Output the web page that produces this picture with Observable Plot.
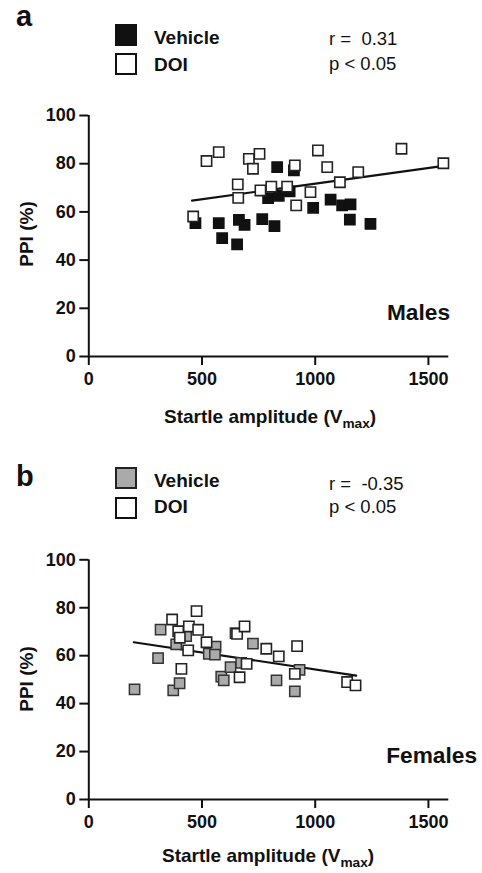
<!DOCTYPE html>
<html>
<head>
<meta charset="utf-8">
<script src="https://cdn.jsdelivr.net/npm/d3@7"></script>
<script src="https://cdn.jsdelivr.net/npm/@observablehq/plot@0.6"></script>
<style>
  html, body { margin: 0; padding: 0; background: #fff; }
  #page { position: relative; width: 482px; height: 873px; overflow: hidden;
          font-family: "Liberation Sans", Arial, Helvetica, sans-serif; color: #111; }
  .t { position: absolute; line-height: 1; white-space: pre; }
  .b { font-weight: bold; }
  .sq { position: absolute; box-sizing: border-box; width: 22px; height: 22px; border: 2px solid #111; }
  .panel { position: absolute; left: 0; }
  .rot { position: absolute; transform: translate(-50%, -50%) rotate(-90deg); font-weight: bold; font-size: 19px; line-height: 1; white-space: pre; }
  sub { font-size: 0.72em; vertical-align: -0.35em; line-height: 0; }
</style>
</head>
<body>
<div id="page">
  <!-- panel a -->
  <div class="t b" style="left:16px; top:2px; font-size:29px;">a</div>
  <div class="sq" style="left:115px; top:24px; background:#111;"></div>
  <div class="sq" style="left:115px; top:53px; background:#fff;"></div>
  <div class="t b" style="left:154px; top:28px; font-size:19px;">Vehicle</div>
  <div class="t b" style="left:154px; top:54.6px; font-size:19px;">DOI</div>
  <div class="t" style="left:329px; top:30px; font-size:18.5px;">r =  0.31</div>
  <div class="t" style="left:329px; top:55px; font-size:18.5px;">p &lt; 0.05</div>
  <div id="plotA" class="panel" style="top:90px;"></div>
  <div class="t b" style="right:32px; top:300.8px; font-size:22.7px;">Males</div>
  <div class="rot" style="left:26px; top:234px;">PPI (%)</div>
  <div class="t b" style="left:164px; top:407px; font-size:19px;">Startle amplitude (V<sub>max</sub>)</div>

  <!-- panel b -->
  <div class="t b" style="left:16px; top:462px; font-size:29px;">b</div>
  <div class="sq" style="left:115px; top:467px; background:#aaaaaa; border-color:#222;"></div>
  <div class="sq" style="left:115px; top:497px; background:#fff;"></div>
  <div class="t b" style="left:154px; top:470.6px; font-size:19px;">Vehicle</div>
  <div class="t b" style="left:154px; top:497.2px; font-size:19px;">DOI</div>
  <div class="t" style="left:329px; top:475px; font-size:18.5px;">r =  -0.35</div>
  <div class="t" style="left:329px; top:498.3px; font-size:18.5px;">p &lt; 0.05</div>
  <div id="plotB" class="panel" style="top:535px;"></div>
  <div class="t b" style="right:5px; top:743.5px; font-size:22.7px;">Females</div>
  <div class="rot" style="left:26px; top:679px;">PPI (%)</div>
  <div class="t b" style="left:162px; top:846px; font-size:19px;">Startle amplitude (V<sub>max</sub>)</div>
</div>
<script>
// ---- data ----
const xTicks = [0, 500, 1000, 1500];
const yTicks = [0, 20, 40, 60, 80, 100];

// Males
const maleVehicleX = [471, 574, 589, 655, 663, 688, 766, 820, 792, 839, 832, 887, 906, 991, 1068, 1119, 1156, 1153, 1244];
const maleVehicleY = [55.3, 55.3, 49.1, 46.5, 56.7, 54.6, 57.0, 54.1, 65.7, 66.7, 78.6, 68.5, 77.2, 61.7, 65.1, 62.7, 63.1, 56.8, 55.0];
const maleDoiX = [461, 520, 574, 658, 660, 707, 725, 754, 758, 806, 876, 910, 916, 979, 1012, 1053, 1109, 1190, 1381, 1566];
const maleDoiY = [58.1, 81.1, 84.8, 71.4, 65.8, 82.0, 77.9, 84.1, 68.9, 70.5, 70.5, 79.3, 62.7, 68.2, 85.5, 78.6, 72.3, 76.5, 86.2, 80.2];
const maleFitX = [456, 1568];
const maleFitY = [64.7, 79.1];

// Females
const femaleVehicleX = [202, 317, 306, 373, 401, 386, 430, 530, 560, 557, 585, 596, 626, 648, 673, 725, 829, 910, 931];
const femaleVehicleY = [45.9, 70.9, 59.0, 45.5, 48.5, 64.7, 68.2, 60.8, 63.8, 60.4, 51.3, 49.7, 55.2, 69.4, 57.0, 65.0, 49.7, 45.1, 54.1];
const femaleDoiX = [368, 395, 402, 409, 439, 442, 476, 483, 520, 655, 688, 666, 697, 784, 839, 920, 910, 1141, 1178];
const femaleDoiY = [75.1, 70.2, 67.5, 54.5, 62.2, 72.2, 78.6, 70.8, 65.6, 69.1, 72.2, 51.0, 56.6, 62.9, 59.7, 64.0, 52.4, 49.0, 47.6];
const femaleFitX = [199, 1181];
const femaleFitY = [65.6, 51.7];

const zip = (xs, ys) => xs.map((x, i) => ({x, y: ys[i]}));
const fmt = d => String(d);

function panel({veh, doi, fit, vehFill, vehStroke, marginTop, marginBottom}) {
  return Plot.plot({
    width: 482,
    height: 300,
    marginLeft: 88.3,
    marginRight: 33.7,
    marginTop,
    marginBottom,
    x: {domain: [0, 1590], ticks: xTicks},
    y: {domain: [0, 100], ticks: yTicks},
    style: {
      fontFamily: '"Liberation Sans", Arial, Helvetica, sans-serif',
      fontSize: "18px",
      fontWeight: "bold",
      color: "#111",
      background: "transparent",
      overflow: "visible"
    },
    marks: [
      Plot.axisX({ticks: xTicks, tickFormat: fmt, tickSize: 9, tickPadding: 7, strokeWidth: 2, label: null, fontSize: 18}),
      Plot.axisY({ticks: yTicks, tickFormat: fmt, tickSize: 9, tickPadding: 4, strokeWidth: 2, label: null, fontSize: 18}),
      Plot.ruleX([0], {stroke: "#111", strokeWidth: 2}),
      Plot.ruleY([0], {stroke: "#111", strokeWidth: 2}),
      Plot.line(fit, {x: "x", y: "y", stroke: "#111", strokeWidth: 2.2}),
      Plot.dot(veh, {x: "x", y: "y", symbol: "square", r: 5.8, fill: vehFill, stroke: vehStroke, strokeWidth: 1.5}),
      Plot.dot(doi, {x: "x", y: "y", symbol: "square", r: 5.8, fill: "#fff", stroke: "#222", strokeWidth: 1.6})
    ]
  });
}

document.getElementById("plotA").append(panel({
  veh: zip(maleVehicleX, maleVehicleY),
  doi: zip(maleDoiX, maleDoiY),
  fit: zip(maleFitX, maleFitY),
  vehFill: "#111", vehStroke: "#111",
  marginTop: 25, marginBottom: 34
}));

document.getElementById("plotB").append(panel({
  veh: zip(femaleVehicleX, femaleVehicleY),
  doi: zip(femaleDoiX, femaleDoiY),
  fit: zip(femaleFitX, femaleFitY),
  vehFill: "#aaaaaa", vehStroke: "#333",
  marginTop: 24.3, marginBottom: 36
}));
</script>
</body>
</html>
